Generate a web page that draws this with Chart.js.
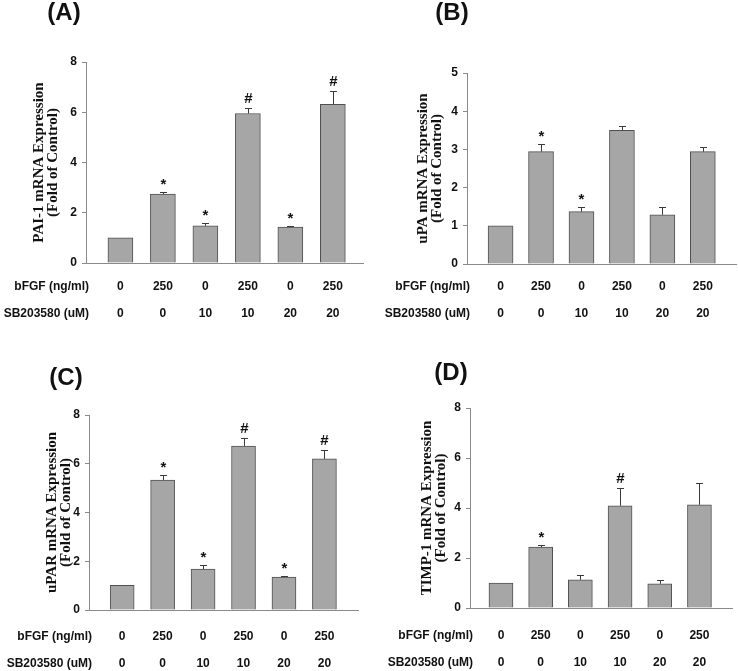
<!DOCTYPE html>
<html><head><meta charset="utf-8">
<script src="https://cdn.jsdelivr.net/npm/chart.js@4.4.1/dist/chart.umd.min.js"></script>
<style>
html,body{margin:0;padding:0;background:#fff;}
#wrap{position:relative;width:738px;height:671px;overflow:hidden;}
.p{position:absolute;}
canvas{display:block;}
</style></head><body>
<div id="wrap">
<div class="p" style="left:0;top:0"><canvas id="cA" width="369" height="335"></canvas></div>
<div class="p" style="left:369px;top:0"><canvas id="cB" width="369" height="335"></canvas></div>
<div class="p" style="left:0;top:335px"><canvas id="cC" width="369" height="336"></canvas></div>
<div class="p" style="left:369px;top:335px"><canvas id="cD" width="369" height="336"></canvas></div>
</div>
<script>
// ---- data ----
const bfgfLabels = ['0', '250', '0', '250', '0', '250'];
const sbLabels = ['0', '0', '10', '10', '20', '20'];
const rowHeaders = ['bFGF (ng/ml)', 'SB203580 (uM)'];

const paiMean = [1.0, 2.74, 1.48, 5.95, 1.43, 6.32];
const paiErr  = [0, 0.09, 0.12, 0.23, 0.06, 0.52];
const paiMarks = ['', '*', '*', '#', '*', '#'];

const upaMean = [1.0, 2.94, 1.37, 3.50, 1.29, 2.94];
const upaErr  = [0, 0.21, 0.11, 0.12, 0.20, 0.13];
const upaMarks = ['', '*', '*', '', '', ''];

const uparMean = [1.01, 5.33, 1.68, 6.73, 1.35, 6.20];
const uparErr  = [0, 0.20, 0.15, 0.33, 0.05, 0.35];
const uparMarks = ['', '*', '*', '#', '*', '#'];

const timpMean = [1.0, 2.44, 1.13, 4.09, 0.97, 4.13];
const timpErr  = [0, 0.09, 0.20, 0.71, 0.15, 0.88];
const timpMarks = ['', '*', '', '#', '', ''];

// ---- drawing ----
const LH = 27;
function makePanel(id, letter, title, mean, err, marks, yMax, yStep, L) {
  const canvas = document.getElementById(id);
  const W = canvas.width, H = canvas.height;
  const overlay = {
    id: 'overlay_' + id,
    afterDatasetsDraw(chart) {
      const ctx = chart.ctx, xs = chart.scales.x, ys = chart.scales.y;
      ctx.save();
      ctx.strokeStyle = '#3a3a3a';
      ctx.lineWidth = 1;
      mean.forEach((v, i) => {
        const cx = Math.round(xs.getPixelForValue(i)) + 0.5;
        const y0 = ys.getPixelForValue(v);
        const y1 = Math.round(ys.getPixelForValue(v + err[i])) + 0.5;
        if (err[i] > 0) {
          ctx.beginPath();
          ctx.moveTo(cx, y0); ctx.lineTo(cx, y1);
          ctx.moveTo(cx - 3.5, y1); ctx.lineTo(cx + 3.5, y1);
          ctx.stroke();
        }
        if (marks[i]) {
          ctx.fillStyle = '#111';
          ctx.font = 'bold 15px "Liberation Sans", Arial, sans-serif';
          ctx.textAlign = 'center';
          ctx.textBaseline = 'alphabetic';
          ctx.fillText(marks[i], cx, y1 - (marks[i] === '#' ? 6 : 4));
        }
      });
      // row headers
      ctx.fillStyle = '#111';
      ctx.font = 'bold 12px "Liberation Sans", Arial, sans-serif';
      ctx.textAlign = 'right';
      ctx.textBaseline = 'middle';
      rowHeaders.forEach((t, k) => {
        ctx.fillText(t, ys.right + 3, xs.top + L.pad + LH / 2 + k * LH);
      });
      // panel letter
      ctx.font = 'bold 24px "Liberation Sans", Arial, sans-serif';
      ctx.textAlign = 'center';
      ctx.fillText(letter, L.lx, L.ly);
      ctx.restore();
    }
  };
  new Chart(canvas, {
    type: 'bar',
    data: {
      datasets: [{
        data: mean.map((v, i) => ({ x: i, y: v })),
        backgroundColor: '#a6a6a6',
        borderColor: '#505050',
        borderWidth: 1,
        barThickness: L.bw
      }]
    },
    options: {
      responsive: false,
      animation: false,
      layout: { padding: { top: L.top, right: W - L.right, left: 0, bottom: 0 } },
      plugins: { legend: { display: false }, tooltip: { enabled: false }, title: { display: false } },
      scales: {
        x: {
          type: 'linear',
          offset: false,
          min: L.xmin, max: L.xmax,
          afterBuildTicks: (s) => { s.ticks = bfgfLabels.map((_, i) => ({ value: i })); },
          afterFit: (s) => { s.height = H - L.bottom; },
          grid: { offset: false, drawOnChartArea: false, drawTicks: false },
          border: { display: true, color: '#8a8a8a', width: 1 },
          ticks: {
            autoSkip: false, maxRotation: 0, padding: L.pad,
            color: '#111',
            font: { family: '"Liberation Sans", Arial, sans-serif', size: 12, weight: 'bold', lineHeight: LH + 'px' },
            callback: (v, i) => [bfgfLabels[i], sbLabels[i]]
          }
        },
        y: {
          min: 0, max: yMax,
          afterFit: (s) => { s.width = L.axis; },
          grid: { drawOnChartArea: false, drawTicks: true, tickLength: 4, color: '#8a8a8a' },
          border: { display: true, color: '#8a8a8a', width: 1 },
          ticks: {
            stepSize: yStep, padding: 5, color: '#111',
            font: { family: '"Liberation Sans", Arial, sans-serif', size: 12, weight: 'bold' }
          },
          title: {
            display: true,
            text: title,
            color: '#111',
            padding: { top: L.tpad, bottom: 0 },
            font: { family: '"Liberation Serif", "Times New Roman", serif', size: 15, weight: 'bold', lineHeight: '14.5px' }
          }
        }
      }
    },
    plugins: [overlay]
  });
}

makePanel('cA', '(A)', ['PAI-1 mRNA Expression', '(Fold of Control)'], paiMean, paiErr, paiMarks, 8, 2,
  { axis: 86, top: 62, bottom: 263, right: 363, xmin: -0.81, xmax: 5.71, bw: 25, pad: 10, tpad: 31.5, lx: 64, ly: 13 });
makePanel('cB', '(B)', ['uPA mRNA Expression', '(Fold of Control)'], upaMean, upaErr, upaMarks, 5, 1,
  { axis: 98, top: 73, bottom: 264, right: 367, xmin: -0.83, xmax: 5.82, bw: 25, pad: 9, tpad: 46.5, lx: 83, ly: 13 });
makePanel('cC', '(C)', ['uPAR mRNA Expression', '(Fold of Control)'], uparMean, uparErr, uparMarks, 8, 2,
  { axis: 89, top: 80, bottom: 275, right: 358, xmin: -0.82, xmax: 5.83, bw: 24, pad: 13, tpad: 44.5, lx: 66, ly: 43 });
makePanel('cD', '(D)', ['TIMP-1 mRNA Expression', '(Fold of Control)'], timpMean, timpErr, timpMarks, 8, 2,
  { axis: 101, top: 73, bottom: 273, right: 363, xmin: -0.78, xmax: 5.82, bw: 24, pad: 14, tpad: 50.5, lx: 82, ly: 38 });
</script>
</body></html>
